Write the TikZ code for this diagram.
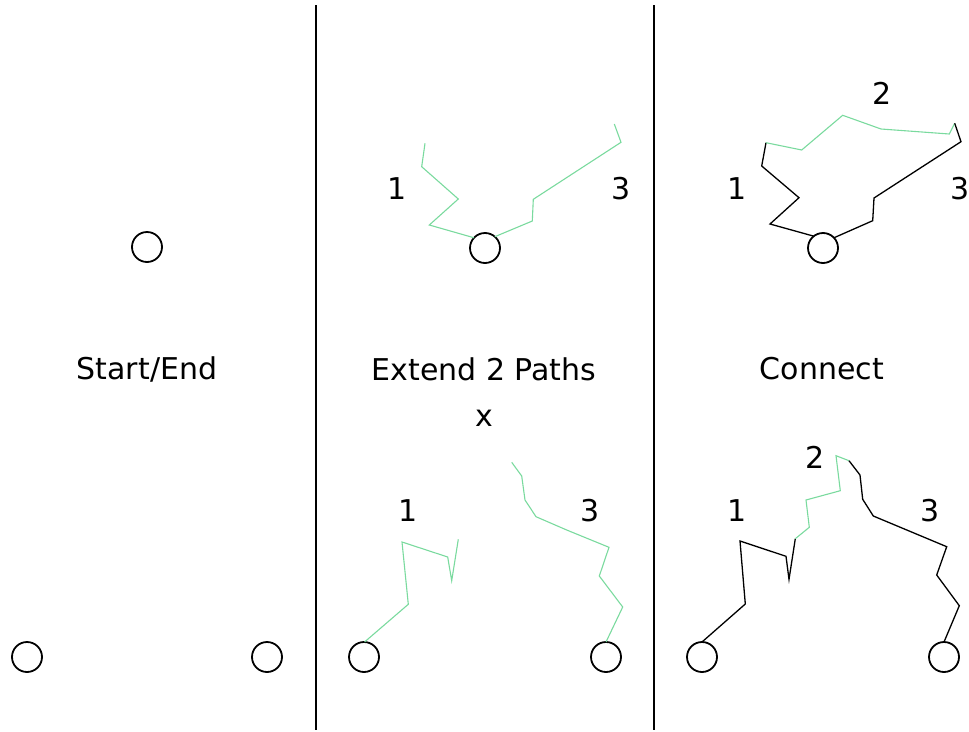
\documentclass[tikz,border=0pt]{standalone}
\usepackage{fontspec}
\setmainfont{DejaVu Sans}
\definecolor{pathgreen}{RGB}{122,218,158}
\begin{document}
\begin{tikzpicture}[x=1pt,y=-1pt,
  endpoint/.style={circle,draw=black,line width=1.8pt,minimum size=30pt,inner sep=0pt,outer sep=0pt},
  label/.style={font=\fontsize{30}{36}\selectfont,inner sep=0pt,anchor=center},
  divider/.style={line width=1.3pt,black},
  grown/.style={pathgreen,line width=1.1pt,line join=miter},
  joined/.style={black,line width=1.3pt,line join=miter}]
\useasboundingbox (0,0) rectangle (969,731);

% panel dividers
\coordinate (d1t) at (316,5); \coordinate (d1b) at (316,730);
\coordinate (d2t) at (654,5); \coordinate (d2b) at (654,730);
\draw[divider] (d1t) -- (d1b);
\draw[divider] (d2t) -- (d2b);

% ---------- panel 1: start and end points ----------
\node[endpoint] (s1) at (147,247) {};
\node[endpoint] (a1) at (27,657) {};
\node[endpoint] (b1) at (267,657) {};
\node[label] (t1) at (147,369) {Start/End};

% ---------- panel 2: extend two paths ----------
\node[endpoint] (s2) at (485,248) {};
\node[endpoint] (a2) at (364,657) {};
\node[endpoint] (b2) at (606,657) {};
\node[label] (t2) at (484,369) {Extend 2 Paths};
\node[label] (x2) at (484,418) {x};
\node[label] (p2a) at (397,189) {1};
\node[label] (p2b) at (621,189) {3};
\node[label] (q2a) at (408,511) {1};
\node[label] (q2b) at (590,511) {3};

\draw[grown] (s2.137) -- (429.3,225) -- (458.3,199) -- (421.7,166.7) -- (425,143.3);
\draw[grown] (s2.49) -- (532.3,221) -- (533.3,199.3) -- (621,142.3) -- (614.3,124);
\draw[grown] (a2.88) -- (408.3,604.3) -- (402,542) -- (447.7,557) -- (451.7,580.7) -- (458.3,539.3);
\draw[grown] (b2.90) -- (622.7,607) -- (599.3,576) -- (609,547.3) -- (566.7,530) -- (536,516.7)
  -- (525,500) -- (521.7,476) -- (511.7,462.3);

% ---------- panel 3: connect ----------
\node[endpoint] (s3) at (823,248) {};
\node[endpoint] (a3) at (702,657) {};
\node[endpoint] (b3) at (944,657) {};
\node[label] (t3) at (822,369) {Connect};
\node[label] (p3a) at (737,189) {1};
\node[label] (p3m) at (882,93) {2};
\node[label] (p3b) at (960,189) {3};
\node[label] (q3a) at (737,511) {1};
\node[label] (q3m) at (815,457) {2};
\node[label] (q3b) at (930,511) {3};

\coordinate (u1) at (766,142.7);
\coordinate (u2) at (954.7,123.3);
\draw[joined] (s3.128) -- (770,224) -- (799,197.7) -- (761.7,166) -- (u1);
\draw[grown] (u1) -- (801.7,150) -- (842.7,115.3) -- (881,129) -- (949.3,134) -- (u2);
\draw[joined] (s3.43) -- (872.7,220.7) -- (874,198) -- (961,141.7) -- (u2);

\coordinate (v1) at (795.3,538.7);
\coordinate (v2) at (849,460.7);
\draw[joined] (a3.90) -- (745.3,604) -- (740,541) -- (786,556.3) -- (789,579.3) -- (v1);
\draw[grown] (v1) -- (809.3,527.3) -- (806,500) -- (840.3,490.7) -- (836,455.7) -- (v2);
\draw[joined] (b3.90) -- (959.3,605.7) -- (936.7,575) -- (946.7,546.7) -- (873.3,516) -- (862.7,499.3)
  -- (860,475) -- (v2);
\end{tikzpicture}
\end{document}
